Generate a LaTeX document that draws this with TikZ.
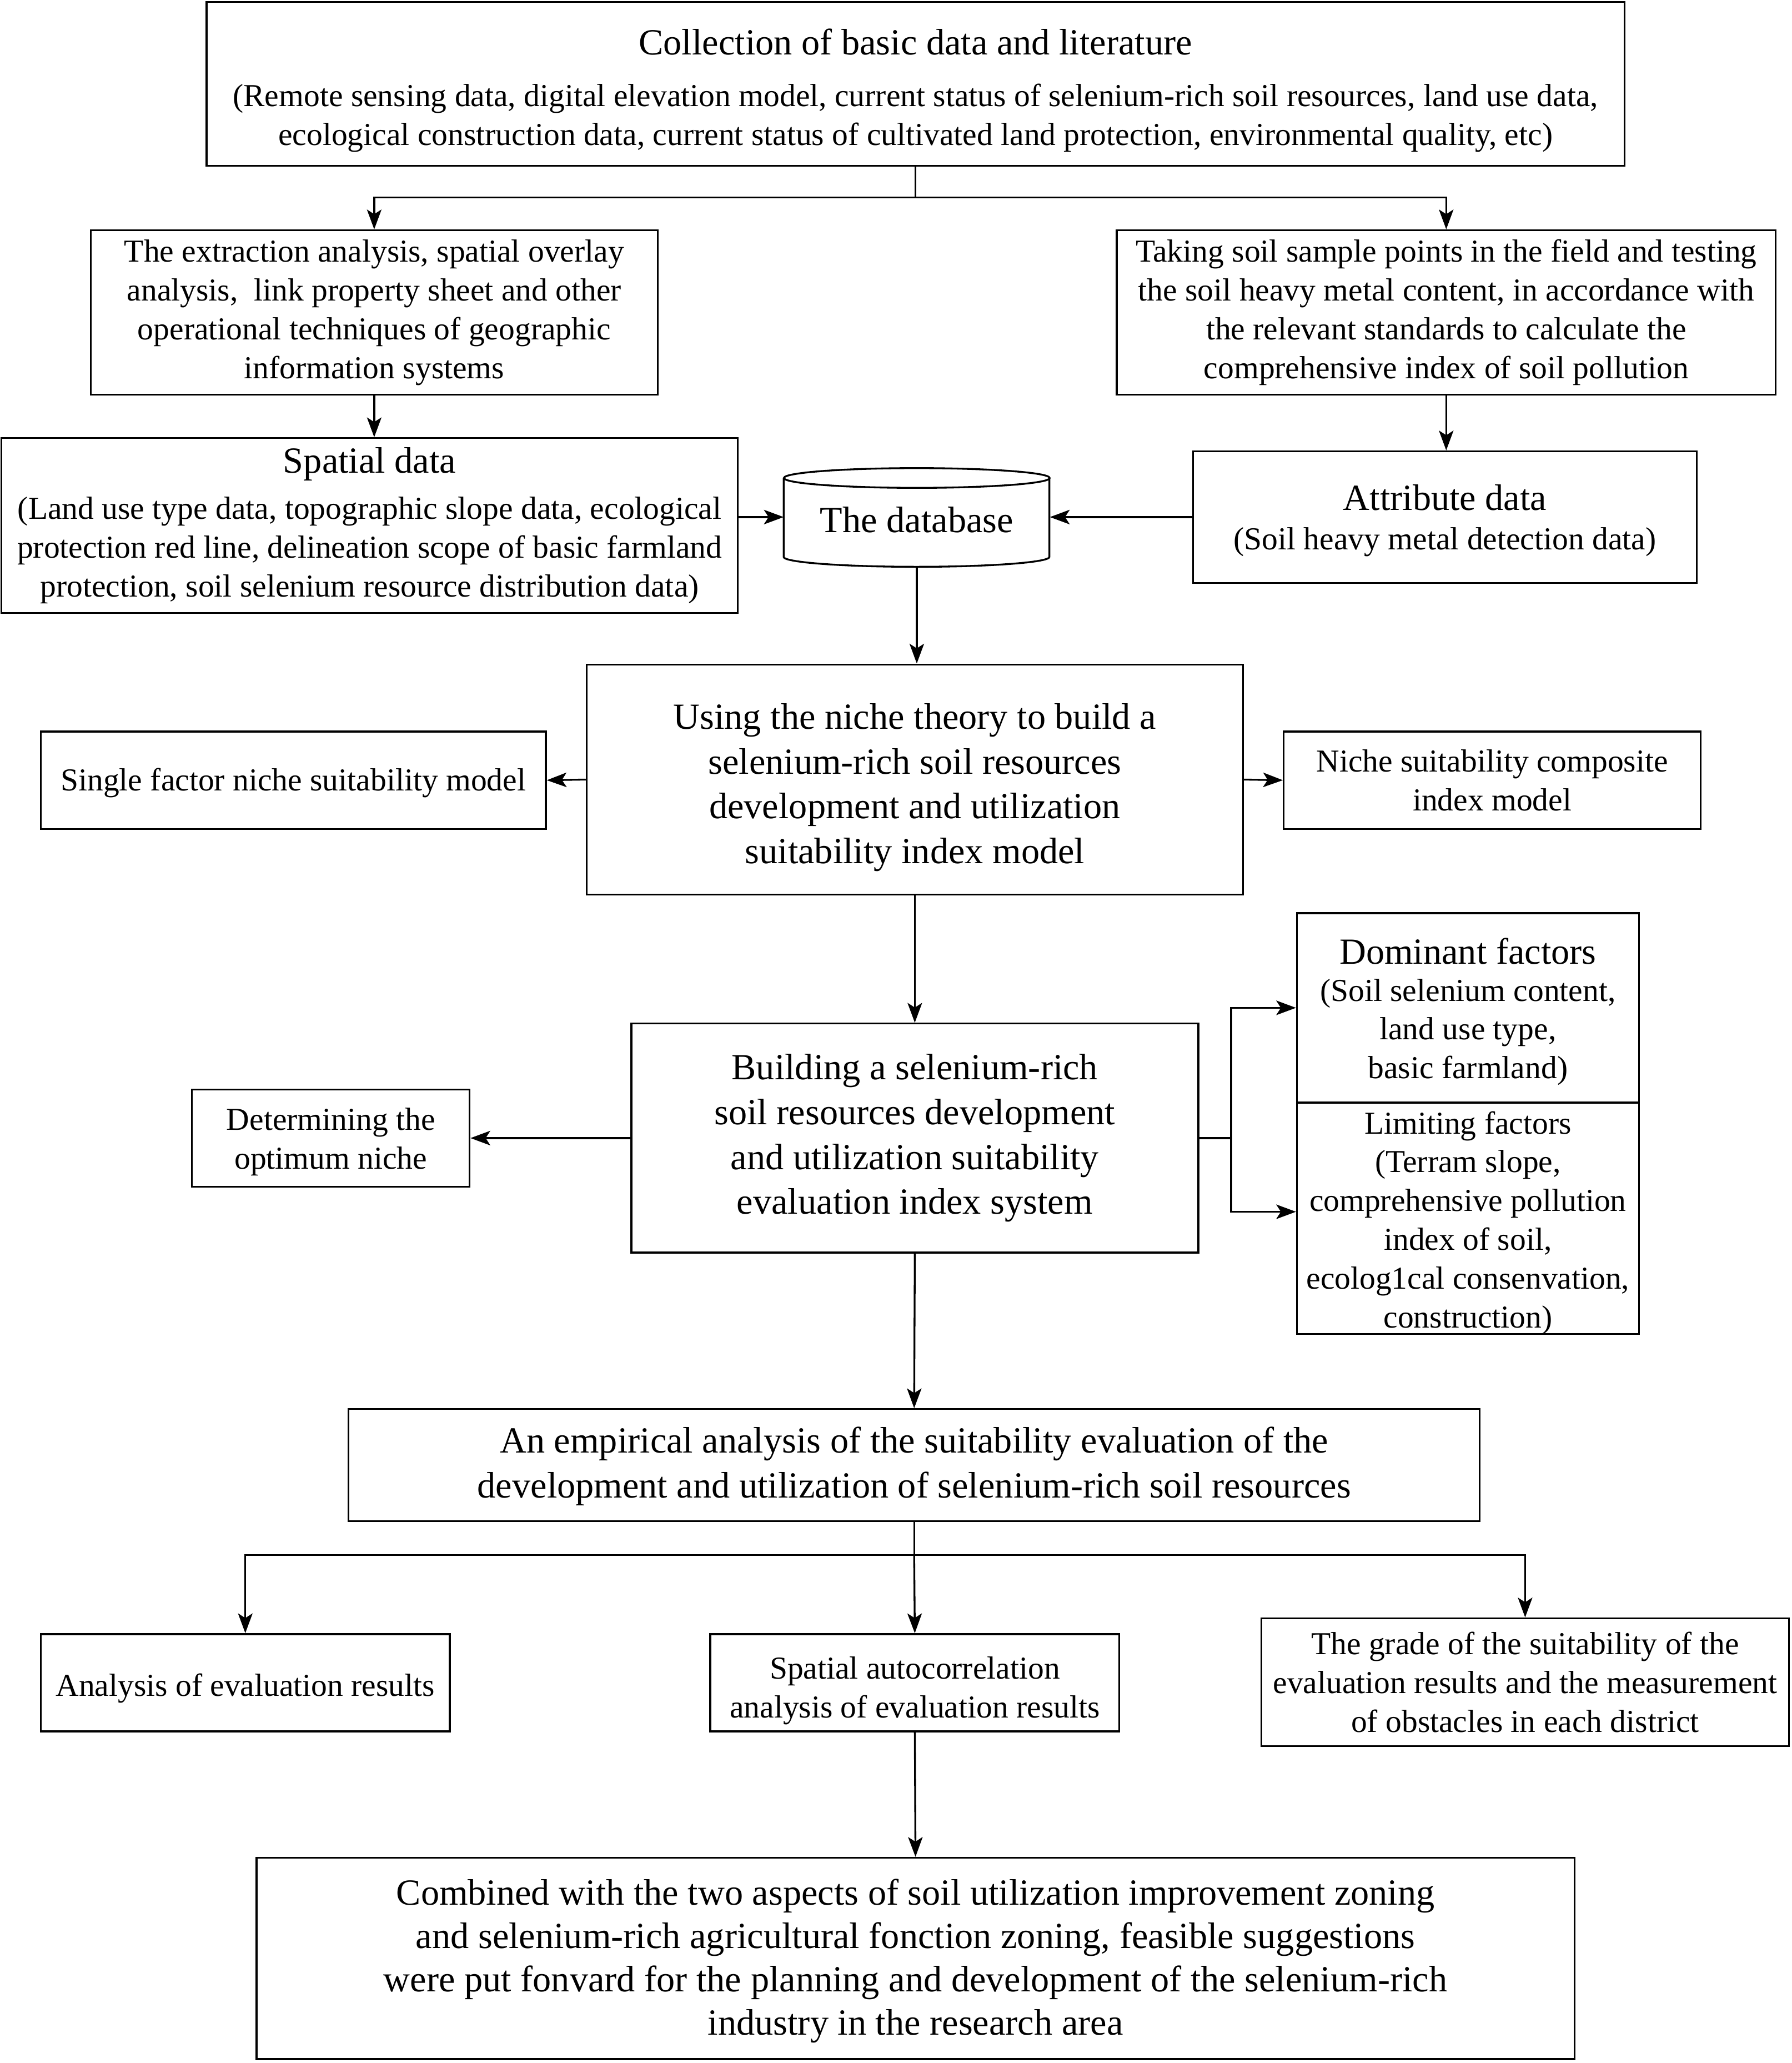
\documentclass[tikz,border=0pt]{standalone}
\usepackage{fontspec}
\setmainfont{Liberation Serif}
\usetikzlibrary{arrows.meta,calc}
\newcommand\fsmall{\fontsize{24.3}{29.5}\selectfont}
\newcommand\flarge{\fontsize{28}{34}\selectfont}
\begin{document}
\begin{tikzpicture}[x=1pt,y=-1pt,
  bx/.style={draw, line width=1.4pt, inner sep=0pt},
  tx/.style={align=center, inner sep=0pt, font=\fsmall},
  txl/.style={tx, font=\flarge},
  ln/.style={line width=1.4pt},
  arr/.style={ln, -{Stealth[length=15pt,width=11pt,inset=3.5pt]}}]
\useasboundingbox (0,0) rectangle (1362,1568);

% boxes
\node[bx, minimum width=1078pt, minimum height=124.5pt] (top) at (696,63.75) {};
\node[bx, minimum width=431pt, minimum height=125pt] (ga) at (284.5,237.5) {};
\node[bx, minimum width=501pt, minimum height=125pt] (gb) at (1099.5,237.5) {};
\node[bx, minimum width=560pt, minimum height=133pt] (spatial) at (281,399.5) {};
\node[bx, minimum width=383pt, minimum height=100pt] (attr) at (1098.5,393) {};
\node[inner sep=0pt, minimum width=202pt, minimum height=74pt] (db) at (697,393) {};
\node[bx, minimum width=499pt, minimum height=175pt] (niche) at (695.5,592.5) {};
\node[bx, minimum width=384pt, minimum height=74pt] (single) at (223,593) {};
\node[bx, minimum width=317pt, minimum height=74pt] (comp) at (1134.5,593) {};
\node[bx, minimum width=431pt, minimum height=174pt] (build) at (695.5,865) {};
\node[bx, minimum width=211pt, minimum height=74pt] (opt) at (251.5,865) {};
\node[bx, minimum width=260pt, minimum height=144pt] (dom) at (1116,766) {};
\node[bx, minimum width=260pt, minimum height=176pt] (lim) at (1116,926) {};
\node[bx, minimum width=860pt, minimum height=85pt] (emp) at (695,1113.5) {};
\node[bx, minimum width=311pt, minimum height=74pt] (anal) at (186.5,1279) {};
\node[bx, minimum width=311pt, minimum height=74pt] (auto) at (695.5,1279) {};
\node[bx, minimum width=401pt, minimum height=97pt] (grade) at (1159.5,1278.5) {};
\node[bx, minimum width=1002pt, minimum height=153pt] (final) at (696,1488.5) {};

% database cylinder outline
\draw[ln] (db.north west) ++(0,7.5) -- ++(0,60)
  arc[start angle=180, end angle=360, x radius=101pt, y radius=7.5pt] -- ++(0,-60);
\draw[ln] (db.north) ++(0,7.5) ellipse [x radius=101pt, y radius=7.5pt];

% texts
\node[tx] (top-t) at ($(top)+(0,5)$)
 {{\flarge Collection of basic data and literature}\\[9.5pt]
  (Remote sensing data, digital elevation model, current status of selenium-rich soil resources, land use data,\\
  ecological construction data, current status of cultivated land protection, environmental quality, etc)};
\node[tx] (ga-t) at (ga)
 {The extraction analysis, spatial overlay\\
  analysis,\ \ link property sheet and other\\
  operational techniques of geographic\\
  information systems};
\node[tx] (gb-t) at (gb)
 {Taking soil sample points in the field and testing\\
  the soil heavy metal content, in accordance with\\
  the relevant standards to calculate the\\
  comprehensive index of soil pollution};
\node[tx] (spatial-t) at (spatial)
 {{\flarge Spatial data}\\[5.5pt]
  (Land use type data, topographic slope data, ecological\\
  protection red line, delineation scope of basic farmland\\
  protection, soil selenium resource distribution data)};
\node[tx] (attr-t) at ($(attr)+(0,2.5)$)
 {{\flarge Attribute data}\\[0.5pt]
  (Soil heavy metal detection data)};
\node[txl] (db-t) at ($(db)+(0,2)$) {The database};
\node[txl] (niche-t) at ($(niche)+(0,6)$)
 {Using the niche theory to build a\\
  selenium-rich soil resources\\
  development and utilization\\
  suitability index model};
\node[tx] (single-t) at ($(single)+(0,2)$) {Single factor niche suitability model};
\node[tx] (comp-t) at (comp) {Niche suitability composite\\ index model};
\node[txl] (build-t) at (build)
 {Building a selenium-rich\\
  soil resources development\\
  and utilization suitability\\
  evaluation index system};
\node[tx] (opt-t) at ($(opt)+(0,3)$) {Determining the\\ optimum niche};
\node[tx] (dom-t) at ($(dom)+(0,3)$)
 {{\flarge Dominant factors}\\[-1.5pt]
  (Soil selenium content,\\
  land use type,\\
  basic farmland)};
\node[tx] (lim-t) at ($(lim)+(0,3.5)$)
 {Limiting factors\\
  (Terram slope,\\
  comprehensive pollution\\
  index of soil,\\
  ecolog1cal consenvation,\\
  construction)};
\node[txl] (emp-t) at ($(emp)+(0,1)$)
 {An empirical analysis of the suitability evaluation of the\\
  development and utilization of selenium-rich soil resources};
\node[tx] (anal-t) at ($(anal)+(0,4)$) {Analysis of evaluation results};
\node[tx] (auto-t) at ($(auto)+(0,6)$) {Spatial autocorrelation\\ analysis of evaluation results};
\node[tx] (grade-t) at (grade)
 {The grade of the suitability of the\\
  evaluation results and the measurement\\
  of obstacles in each district};
\node[txl] (final-t) at ($(final)+(0,2)$)
 {Combined with the two aspects of soil utilization improvement zoning\\[-1pt]
  and selenium-rich agricultural fonction zoning, feasible suggestions\\[-1pt]
  were put fonvard for the planning and development of the selenium-rich\\[-1pt]
  industry in the research area};

% connectors
\coordinate (f1) at (696,150);
\draw[ln] (top.south) -- (f1);
\draw[arr] (f1) -| (ga.north);
\draw[arr] (f1) -| (gb.north);
\draw[arr] (ga.south) -- (ga.south |- spatial.north);
\draw[arr] (gb.south) -- (gb.south |- attr.north);
\draw[arr] (spatial.east |- db.west) -- (db.west);
\draw[arr] (attr.west) -- (db.east);
\draw[arr] (db.south) -- (db.south |- niche.north);
\draw[arr] (niche.west) -- (single.east);
\draw[arr] (niche.east) -- (comp.west);
\draw[arr] (niche.south) -- (build.north);
\draw[arr] (build.west) -- (opt.east);
\coordinate (j) at (936,865);
\draw[ln] (build.east) -- (j);
\draw[arr] (j) |- (dom.west);
\draw[arr] (j) |- ($(lim.west)+(0,-5)$);
\draw[arr] (build.south) -- (emp.north);
\coordinate (f2) at (695,1182);
\draw[ln] (emp.south) -- (f2);
\draw[arr] (f2) -| (anal.north);
\draw[arr] (f2) -- (auto.north);
\draw[arr] (f2) -| (grade.north);
\draw[arr] (auto.south) -- (final.north);
\end{tikzpicture}
\end{document}
